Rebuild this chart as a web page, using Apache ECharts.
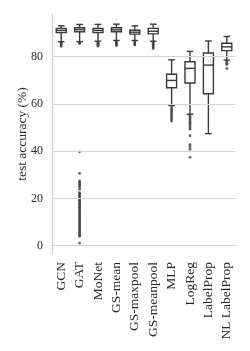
<!DOCTYPE html>
<html><head><meta charset="utf-8">
<script src="https://cdn.jsdelivr.net/npm/echarts@6/dist/echarts.min.js"></script>
<style>html,body{margin:0;padding:0;background:#fff}#c{width:250px;height:351px}</style>
</head><body><div id="c"></div>
<script>
var categories = ['GCN','GAT','MoNet','GS-mean','GS-maxpool','GS-meanpool','MLP','LogReg','LabelProp','NL LabelProp'];
// [lower whisker, Q1, median, Q3, upper whisker]
var boxGCN = [86.3, 90.2, 91.1, 91.9, 93.0];
var boxGAT = [86.3, 90.5, 91.4, 92.2, 93.6];
var boxMoNet = [86.5, 90.2, 91.1, 91.9, 93.6];
var boxGSmean = [86.8, 90.5, 91.3, 92.2, 93.7];
var boxGSmaxpool = [86.8, 89.5, 90.3, 91.1, 93.0];
var boxGSmeanpool = [86.5, 89.6, 90.7, 91.9, 93.7];
var boxMLP = [59.3, 66.8, 69.9, 72.5, 78.6];
var boxLogReg = [55.6, 68.8, 75.0, 77.8, 82.2];
var boxLabelProp = [47.4, 64.3, 76.4, 81.5, 86.6];
var boxNLLabelProp = [78.5, 82.5, 84.1, 85.6, 88.5];

var outGCN = [85.9, 85.5, 85.1, 84.3];
var outGAT = [85.9, 85.5, 39.7, 30.6, 27.4, 26.8, 26.1, 25.5, 24.8, 23.9, 22.4, 22.0, 21.5, 21.0, 20.4, 19.8, 19.2, 18.7, 18.1, 17.5, 16.9, 16.3, 15.8, 15.2, 14.6, 14.0, 13.4, 12.8, 12.3, 11.7, 11.1, 10.5, 9.9, 9.3, 8.7, 8.1, 7.5, 6.9, 6.3, 5.7, 5.0, 4.5, 4.0, 1.1];
var outMoNet = [86.0, 85.6, 85.2, 84.8, 84.4];
var outGSmean = [86.3, 85.9, 85.5, 85.0, 84.6];
var outGSmaxpool = [86.3, 85.8, 85.3, 84.9];
var outGSmeanpool = [86.0, 85.5, 85.0, 84.5, 84.0, 83.4];
var outMLP = [58.5, 57.8, 57.1, 56.4, 55.7, 55.0, 54.3, 53.5, 52.7];
var outLogReg = [55.0, 54.3, 53.6, 52.9, 52.2, 51.5, 50.8, 50.0, 49.3, 46.5, 42.7, 41.9, 40.8, 37.4];
var outLabelProp = [];
var outNLLabelProp = [77.9, 77.2, 76.6, 75.0];

var yMin = -3.5, yMax = 98;
var gridValues = [0, 20, 40, 60, 80];

var boxes = [boxGCN, boxGAT, boxMoNet, boxGSmean, boxGSmaxpool, boxGSmeanpool, boxMLP, boxLogReg, boxLabelProp, boxNLLabelProp];
var outs = [outGCN, outGAT, outMoNet, outGSmean, outGSmaxpool, outGSmeanpool, outMLP, outLogReg, outLabelProp, outNLLabelProp];
var outlierData = [];
outs.forEach(function(arr, i){ arr.forEach(function(v){ outlierData.push([i, v]); }); });
var boxData = boxes.map(function(b, i){ return [i].concat(b); });

var FONT = 'Liberation Serif';
var dark = '#3a3a3a';
var LW = 1.4;

function renderBox(params, api) {
  var i = api.value(0);
  var lo = api.coord([i, api.value(1)]);
  var q1 = api.coord([i, api.value(2)]);
  var md = api.coord([i, api.value(3)]);
  var q3 = api.coord([i, api.value(4)]);
  var hi = api.coord([i, api.value(5)]);
  var x = lo[0];
  var hw = 5, cw = 3.3;
  var st = {stroke: dark, lineWidth: LW, fill: null};
  return {
    type: 'group',
    children: [
      {type: 'line', shape: {x1: x, y1: q3[1], x2: x, y2: hi[1]}, style: st},
      {type: 'line', shape: {x1: x, y1: q1[1], x2: x, y2: lo[1]}, style: st},
      {type: 'line', shape: {x1: x - cw, y1: hi[1], x2: x + cw, y2: hi[1]}, style: st},
      {type: 'line', shape: {x1: x - cw, y1: lo[1], x2: x + cw, y2: lo[1]}, style: st},
      {type: 'rect', shape: {x: x - hw, y: q3[1], width: 2 * hw, height: q1[1] - q3[1]}, style: {stroke: dark, lineWidth: LW, fill: '#ffffff'}},
      {type: 'line', shape: {x1: x - hw, y1: md[1], x2: x + hw, y2: md[1]}, style: st}
    ]
  };
}

var chart = echarts.init(document.getElementById('c'), null, {renderer: 'canvas'});
chart.setOption({
  animation: false,
  grid: {left: 52, right: 14, top: 14, bottom: 97, containLabel: false},
  xAxis: {
    type: 'category', data: categories, boundaryGap: true,
    axisLine: {show: true, lineStyle: {color: '#cccccc', width: 1.2}},
    axisTick: {show: false},
    axisLabel: {rotate: 90, interval: 0, margin: 8, fontFamily: FONT, fontSize: 13.5, color: '#2a2a2a'},
    splitLine: {show: false}
  },
  yAxis: {
    type: 'value', min: yMin, max: yMax,
    name: 'test accuracy (%)', nameLocation: 'middle', nameGap: 23, nameMoveOverlap: false,
    nameTextStyle: {fontFamily: FONT, fontSize: 13.5, color: '#2a2a2a'},
    axisLine: {show: true, lineStyle: {color: '#cccccc', width: 1.2}},
    axisTick: {show: false},
    axisLabel: {customValues: gridValues, margin: 9, fontFamily: FONT, fontSize: 12, color: '#2a2a2a'},
    splitLine: {show: false}
  },
  series: [
    {
      type: 'line', data: [], z: 0, silent: true,
      markLine: {silent: true, symbol: 'none', label: {show: false},
        lineStyle: {color: '#d5d5d5', width: 1, type: 'solid'},
        data: gridValues.map(function(v){ return {yAxis: v}; })}
    },
    {
      type: 'custom', data: boxData, z: 3, renderItem: renderBox,
      encode: {x: 0, y: [1, 2, 3, 4, 5]}
    },
    {
      type: 'scatter', data: outlierData, z: 4, symbolSize: 2.8,
      itemStyle: {color: dark}
    }
  ]
});
</script></body></html>
